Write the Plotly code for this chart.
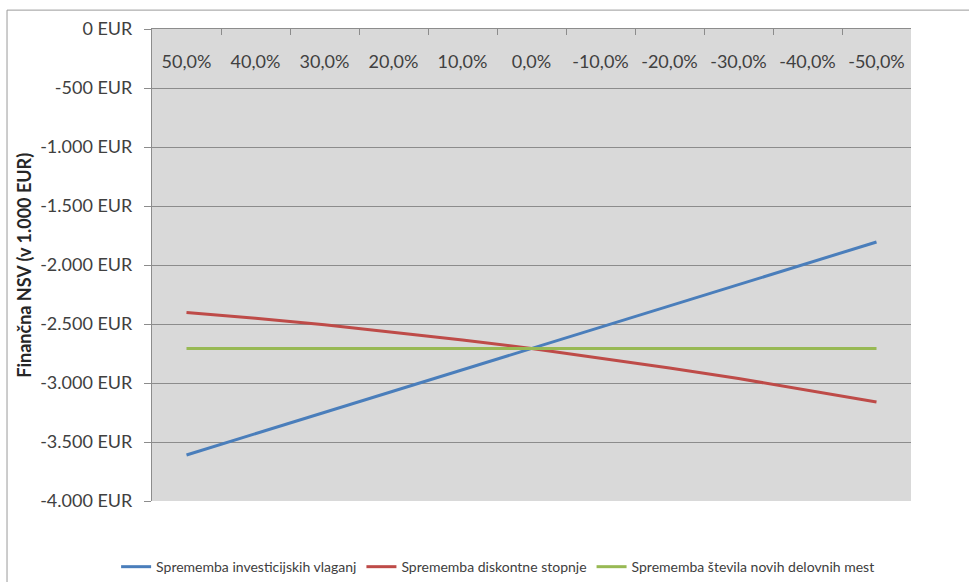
import plotly.graph_objects as go

# Sensitivity of financial NPV (in thousand EUR) to changes in key inputs
changes = ["50,0%", "40,0%", "30,0%", "20,0%", "10,0%", "0,0%",
           "-10,0%", "-20,0%", "-30,0%", "-40,0%", "-50,0%"]

investment = [-3610, -3430, -3249, -3069, -2888, -2708,
              -2527, -2347, -2166, -1986, -1805]
discount = [-2402, -2451, -2507, -2568, -2635, -2708,
            -2787, -2872, -2962, -3059, -3161]
jobs = [-2708, -2708, -2708, -2708, -2708, -2708,
        -2708, -2708, -2708, -2708, -2708]

series_names = ["Sprememba investicijskih vlaganj",
                "Sprememba diskontne stopnje",
                "Sprememba števila novih delovnih mest"]
series_colors = ["#4a7ebb", "#be4b48", "#98b954"]

y_ticks = [0, -500, -1000, -1500, -2000, -2500, -3000, -3500, -4000]
y_labels = ["0 EUR", "-500 EUR", "-1.000 EUR", "-1.500 EUR", "-2.000 EUR",
            "-2.500 EUR", "-3.000 EUR", "-3.500 EUR", "-4.000 EUR"]
y_title = "Finančna NSV (v 1.000 EUR)"

FONT = "Lato"
TEXT = "#404040"
GRID = "#8c8c8c"

fig = go.Figure()
for name, vals, col in zip(series_names, [investment, discount, jobs], series_colors):
    fig.add_trace(go.Scatter(
        x=changes, y=vals, name=name, mode="lines",
        line=dict(color=col, width=3),
    ))

# invisible carrier so the category labels axis (drawn just under the top
# axis line, inside the plot area) knows its categories
fig.add_trace(go.Scatter(
    x=changes, y=jobs, xaxis="x2", mode="none",
    showlegend=False, hoverinfo="skip",
))

fig.update_layout(
    width=969, height=582,
    margin=dict(l=152, r=58, t=29, b=81, autoexpand=False),
    paper_bgcolor="white",
    plot_bgcolor="#d9d9d9",
    font=dict(family=FONT, color=TEXT),
    showlegend=True,
    legend=dict(
        orientation="h",
        x=0.456, xanchor="center",
        y=-0.14, yanchor="middle",
        font=dict(family=FONT, size=14, color=TEXT),
        bgcolor="rgba(0,0,0,0)",
        itemwidth=30,
    ),
    xaxis=dict(
        type="category",
        side="top",
        ticks="inside", ticklen=6, tickcolor=GRID,
        tickson="boundaries",
        showticklabels=False,
        showline=True, linecolor=GRID, linewidth=1,
        showgrid=False, zeroline=False,
        range=[-0.5, len(changes) - 0.5],
    ),
    xaxis2=dict(
        type="category",
        overlaying="x",
        anchor="free", position=0.958,
        side="bottom",
        ticks="", showline=False, showgrid=False, zeroline=False,
        ticklabelstandoff=0,
        tickfont=dict(family=FONT, size=18, color=TEXT),
        range=[-0.5, len(changes) - 0.5],
    ),
    yaxis=dict(
        range=[-4000, 0],
        tickvals=y_ticks, ticktext=y_labels,
        ticks="outside", ticklen=7, tickcolor=GRID,
        ticklabelstandoff=8,
        showline=True, linecolor=GRID, linewidth=1,
        showgrid=True, gridcolor=GRID, gridwidth=1,
        zeroline=False,
        tickfont=dict(family=FONT, size=18, color=TEXT),
    ),
    annotations=[dict(
        text="<b>" + y_title + "</b>",
        xref="paper", yref="paper",
        x=-0.169, y=0.5, xanchor="center", yanchor="middle",
        textangle=-90, showarrow=False,
        font=dict(family=FONT, size=18, color="#262626"),
    )],
    shapes=[
        # outer chart frame (top and left edges)
        dict(type="line", xref="paper", yref="paper",
             x0=-0.191, x1=1.2, y0=1.040, y1=1.040,
             line=dict(color="#9a9a9a", width=1)),
        dict(type="line", xref="paper", yref="paper",
             x0=-0.191, x1=-0.191, y0=1.040, y1=-0.3,
             line=dict(color="#9a9a9a", width=1)),
    ],
)

fig.write_html("out.html")
